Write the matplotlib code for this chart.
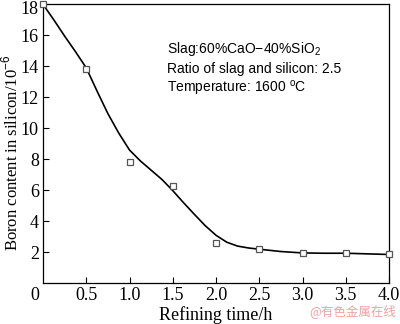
import matplotlib
matplotlib.use('Agg')
import matplotlib.pyplot as plt
import matplotlib.transforms as mtransforms

#### DATA ########################################
TIME = [0, 0.5, 1.0, 1.5, 2.0, 2.5, 3.0, 3.5, 4.0]
BORON = [18.0, 13.8, 7.8, 6.3, 2.6, 2.2, 1.93, 1.97, 1.87]

# fitted curve
FIT_TIME = [0, 0.125, 0.25, 0.375, 0.5, 0.625, 0.75, 0.875, 1.0, 1.125,
            1.25, 1.375, 1.5, 1.625, 1.75, 1.875, 2.0, 2.125, 2.25, 2.375,
            2.5, 2.75, 3.0, 3.25, 3.5, 3.75, 4.0]
FIT_BORON = [18.0, 17.0, 15.95, 14.95, 13.9, 12.4, 10.95, 9.7, 8.6, 7.9,
             7.3, 6.7, 5.98, 5.2, 4.45, 3.72, 3.1, 2.65, 2.4, 2.28,
             2.2, 2.05, 1.96, 1.94, 1.94, 1.9, 1.86]

XTICKS = [0.5, 1.0, 1.5, 2.0, 2.5, 3.0, 3.5, 4.0]
YTICKS = [2, 4, 6, 8, 10, 12, 14, 16, 18]

NOTES = ['Slag:60%CaO\u221240%SiO$_2$',
         'Ratio of slag and silicon: 2.5',
         'Temperature: 1600 $^{\\rm o}$C']

#### PLOT ########################################
serif = 'Liberation Serif'
plt.rcParams['mathtext.fontset'] = 'custom'
plt.rcParams['mathtext.rm'] = 'Liberation Sans'

fig = plt.figure(figsize=(4.0, 3.24), dpi=100)
ax = fig.add_axes([0.1075, 0.1256, 0.865, 0.861])

ax.plot(FIT_TIME, FIT_BORON, color='black', lw=1.2, zorder=2)
ax.plot(TIME, BORON, 's', ms=5, mfc='white', mec='#555555', mew=0.9,
        zorder=3, clip_on=False)

ax.set_xlim(0, 4.0)
ax.set_ylim(0, 18)
ax.set_xticks(XTICKS)
ax.set_xticklabels(['%.1f' % t for t in XTICKS], family=serif, fontsize=13)
ax.set_yticks(YTICKS)
ax.set_yticklabels([str(v) for v in YTICKS], family=serif, fontsize=13)
ax.tick_params(direction='in', length=4, width=0.8, pad=3)

# top label pushed down a little so it stays inside the figure
top = ax.get_yticklabels()[-1]
top.set_transform(top.get_transform() +
                  mtransforms.ScaledTranslation(0, -3.5 / 100, fig.dpi_scale_trans))

ax.text(-0.01, -0.012, '0', transform=ax.transAxes, ha='right', va='top',
        family=serif, fontsize=13)

ax.set_xlabel('Refining time/h', family=serif, fontsize=13, labelpad=1)
ax.set_ylabel('Boron content in silicon/10$^{-6}$', family=serif,
              fontsize=12, labelpad=2)
ax.yaxis.set_label_coords(-0.063, 0.467)

for sp in ax.spines.values():
    sp.set_linewidth(0.9)

for i, note in enumerate(NOTES):
    ax.text(0.357, 0.827 - i * 0.072, note, transform=ax.transAxes,
            family='Liberation Sans', fontsize=10)

fig.text(0.99, 0.018, '@有色金属在线', ha='right', va='bottom',
         family=['Noto Sans CJK SC', 'DejaVu Sans'], fontsize=9,
         color='#f2a0a0')

fig.savefig('out.png', dpi=100)
